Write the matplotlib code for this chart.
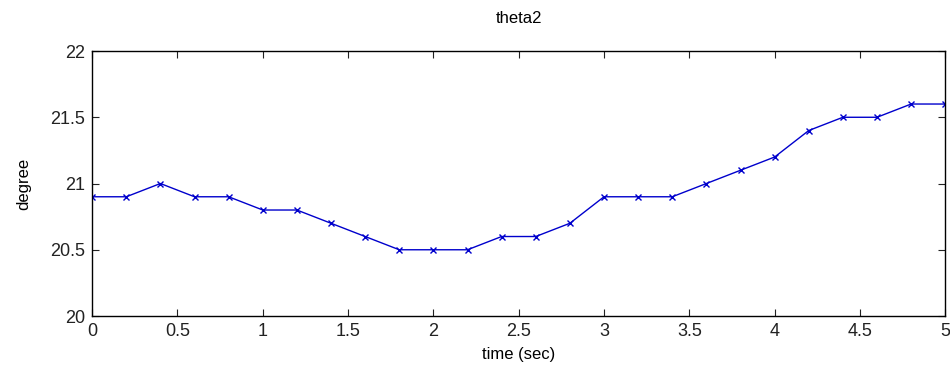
import matplotlib
matplotlib.use("Agg")
import matplotlib.pyplot as plt

# time samples and measured angle
time_sec = [0.0, 0.2, 0.4, 0.6, 0.8, 1.0, 1.2, 1.4, 1.6, 1.8, 2.0, 2.2, 2.4,
            2.6, 2.8, 3.0, 3.2, 3.4, 3.6, 3.8, 4.0, 4.2, 4.4, 4.6, 4.8, 5.0]
theta2 = [20.9, 20.9, 21.0, 20.9, 20.9, 20.8, 20.8, 20.7, 20.6, 20.5, 20.5, 20.5, 20.6,
          20.6, 20.7, 20.9, 20.9, 20.9, 21.0, 21.1, 21.2, 21.4, 21.5, 21.5, 21.6, 21.6]
xticks = [0, 0.5, 1, 1.5, 2, 2.5, 3, 3.5, 4, 4.5, 5]
xtick_labels = ["0", "0.5", "1", "1.5", "2", "2.5", "3", "3.5", "4", "4.5", "5"]
yticks = [20, 20.5, 21, 21.5, 22]
ytick_labels = ["20", "20.5", "21", "21.5", "22"]

plt.rcParams['font.family'] = ['Liberation Sans Narrow', 'Liberation Sans', 'DejaVu Sans']

fig = plt.figure(figsize=(9.5, 3.78), dpi=100)
ax = fig.add_axes([0.097, 0.164, 0.898, 0.701])

ax.plot(time_sec, theta2, color='#0000cc', linewidth=1.0, marker='x',
        markersize=5, markeredgewidth=1.0)

ax.set_xlim(0, 5)
ax.set_ylim(20, 22)
ax.set_xticks(xticks)
ax.set_xticklabels(xtick_labels)
ax.set_yticks(yticks)
ax.set_yticklabels(ytick_labels)
ax.tick_params(direction='in', length=5, labelsize=13, top=True, right=True,
               colors='#222222', pad=5)
for spine in ax.spines.values():
    spine.set_linewidth(1.0)

ax.set_title("theta2", fontsize=12, pad=20)
ax.set_xlabel("time (sec)", fontsize=12, labelpad=5)
ax.set_ylabel("degree", fontsize=12, labelpad=14)

fig.savefig("out.png", dpi=100)
